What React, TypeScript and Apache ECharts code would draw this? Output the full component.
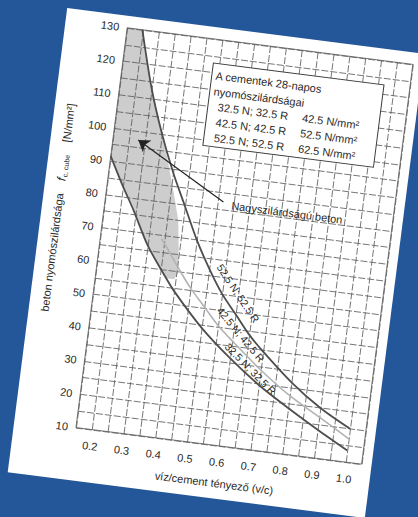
import React, { useEffect, useRef } from "react";
import * as echarts from "echarts";

// ---- axis ticks ----
const xTickLabels = ["0.2", "0.3", "0.4", "0.5", "0.6", "0.7", "0.8", "0.9", "1.0"];
const yTickLabels = ["10", "20", "30", "40", "50", "60", "70", "80", "90", "100", "110", "120", "130"];

// ---- curves (w/c ratio -> compressive strength, N/mm²) ----
const c525X = [0.198, 0.25, 0.3, 0.35, 0.4, 0.45, 0.5, 0.55, 0.6, 0.65, 0.7, 0.8, 0.9, 1.0];
const c525Y = [130, 113, 100, 89, 79.5, 70, 62, 55, 49.5, 44, 39.5, 31.5, 25, 20];

const c425X = [0.34, 0.365, 0.4, 0.45, 0.5, 0.55, 0.6, 0.7, 0.8, 0.9, 1.0];
const c425Y = [69, 66, 61.5, 55.5, 50.5, 45.5, 41.5, 34, 27.5, 22.3, 17];

const c325X = [0.15, 0.2, 0.242, 0.3, 0.36, 0.4, 0.5, 0.6, 0.7, 0.8, 0.9, 1.0];
const c325Y = [91.5, 83, 76.4, 66.5, 58.8, 54, 44.2, 36.3, 29.5, 23.8, 18.5, 13.5];

// ---- high-strength concrete zone (shaded) ----
const grayX = [0.15, 0.198, 0.25, 0.3, 0.33, 0.36, 0.385, 0.4, 0.405, 0.395, 0.37, 0.36, 0.3, 0.242, 0.2, 0.15];
const grayY = [130, 130, 113, 100, 92, 83, 75, 65, 59.5, 57.5, 57.5, 58.8, 66.5, 76.4, 83, 91.5];

// ---- arrow (data coords) ----
const arrowFrom = [0.5175, 82.2];
const arrowTo = [0.229, 97.3];

// ---- curve labels ----
const curveLabelTexts = ["52.5 N; 52.5 R", "42.5 N; 42.5 R", "32.5 N; 32.5 R"];
const curveLabelX = [0.6, 0.623, 0.668];
const curveLabelY = [55.8, 43.6, 34.0];
const curveLabelAngle = [49, 43, 38];

// ---- legend box texts ----
const boxTitle = ["A cementek 28-napos", "nyomószilárdságai"];
const boxCement = ["32.5 N; 32.5 R", "42.5 N; 42.5 R", "52.5 N; 52.5 R"];
const boxStrength = ["42.5 N/mm²", "52.5 N/mm²", "62.5 N/mm²"];

const FONT = "'Liberation Sans', Arial, Helvetica, sans-serif";
const TXT = "#2a2a2a";

const pair = (xs: number[], ys: number[]) => xs.map((x, i) => [x, ys[i]]);

export default function App() {
  const ref = useRef<HTMLDivElement>(null);
  useEffect(() => {
    if (!ref.current) return;
    const chart = echarts.init(ref.current, undefined, { renderer: "svg" });
    const gridColor = "#5c5c5c";
    chart.setOption({
      animation: false,
      backgroundColor: "transparent",
      grid: { left: 62, right: 10, top: 12, bottom: 53, show: true, borderColor: gridColor, borderWidth: 0.8 },
      xAxis: {
        type: "value",
        min: 0.15,
        max: 1.05,
        interval: 0.05,
        axisLine: { show: false },
        axisTick: { show: false },
        splitLine: { show: true, lineStyle: { color: gridColor, width: 0.8, type: [7, 2] } },
        axisLabel: {
          margin: 11,
          color: TXT,
          fontSize: 11,
          fontFamily: FONT,
          showMinLabel: false,
          showMaxLabel: false,
          formatter: (v: number) => {
            const s = v.toFixed(1);
            return Math.abs(v * 10 - Math.round(v * 10)) < 1e-6 && xTickLabels.includes(s) ? s : "";
          },
        },
        name: "víz/cement tényező (v/c)",
        nameLocation: "middle",
        nameGap: 32,
        nameTextStyle: { color: TXT, fontSize: 11, fontFamily: FONT },
      },
      yAxis: {
        type: "value",
        min: 10,
        max: 130,
        interval: 5,
        axisLine: { show: false },
        axisTick: { show: false },
        splitLine: { show: true, lineStyle: { color: gridColor, width: 0.8, type: [7, 2] } },
        axisLabel: {
          margin: 8,
          color: TXT,
          fontSize: 11,
          fontFamily: FONT,
          formatter: (v: number) => {
            const s = String(Math.round(v));
            return Math.abs(v - Math.round(v)) < 1e-6 && yTickLabels.includes(s) ? s : "";
          },
        },
      },
      series: [
        {
          type: "custom",
          z: -1,
          silent: true,
          data: [[grayX[0], grayY[0]]],
          renderItem: (_p: any, api: any) => ({
            type: "polygon",
            shape: { points: grayX.map((x, i) => api.coord([x, grayY[i]])) },
            style: { fill: "#cdcdcd", stroke: "none" },
          }),
        },
        {
          type: "line",
          name: "42.5",
          data: pair(c425X, c425Y),
          smooth: 0.3,
          showSymbol: false,
          lineStyle: { color: "#b3b3b3", width: 1.6 },
        },
        {
          type: "line",
          name: "32.5",
          data: pair(c325X, c325Y),
          smooth: 0.3,
          showSymbol: false,
          lineStyle: { color: "#4e4e4e", width: 1.8 },
        },
        {
          type: "line",
          name: "52.5",
          data: pair(c525X, c525Y),
          smooth: 0.3,
          showSymbol: false,
          lineStyle: { color: "#4e4e4e", width: 1.8 },
          markLine: {
            silent: true,
            symbol: ["none", "arrow"],
            symbolSize: 11,
            label: { show: false },
            itemStyle: { color: "#222" },
            lineStyle: { color: "#222", width: 1.2, type: "solid" },
            data: [[{ coord: arrowFrom }, { coord: arrowTo }]],
          },
        },
      ],
    });

    const graphics: any[] = [];
    // curve labels
    curveLabelTexts.forEach((t, i) => {
      const p = chart.convertToPixel({ xAxisIndex: 0, yAxisIndex: 0 }, [curveLabelX[i], curveLabelY[i]]) as number[];
      graphics.push({
        type: "text",
        x: p[0],
        y: p[1],
        rotation: (-curveLabelAngle[i] * Math.PI) / 180,
        z: 50,
        style: { text: t, fontSize: 10.5, fontFamily: FONT, fill: TXT, align: "center", verticalAlign: "middle" },
      });
    });
    // legend box
    graphics.push({
      type: "rect",
      z: 40,
      shape: { x: 152, y: 36, width: 172, height: 83 },
      style: { fill: "#ffffff", stroke: "#3c3c3c", lineWidth: 1 },
    });
    boxTitle.forEach((t, i) => {
      graphics.push({
        type: "text",
        z: 41,
        x: 156,
        y: 48 + i * 16,
        style: { text: t, fontSize: 11, fontFamily: FONT, fill: TXT, align: "left", verticalAlign: "middle" },
      });
    });
    boxCement.forEach((t, i) => {
      graphics.push({
        type: "text",
        z: 41,
        x: 162,
        y: 79 + i * 15.5,
        style: { text: t, fontSize: 11, fontFamily: FONT, fill: TXT, align: "left", verticalAlign: "middle" },
      });
      graphics.push({
        type: "text",
        z: 41,
        x: 247,
        y: 79 + i * 15.5,
        style: { text: boxStrength[i], fontSize: 11, fontFamily: FONT, fill: TXT, align: "left", verticalAlign: "middle" },
      });
    });
    // arrow label
    graphics.push({
      type: "text",
      z: 41,
      x: 188,
      y: 175,
      style: { text: "Nagyszilárdságú beton", fontSize: 11, fontFamily: FONT, fill: TXT, align: "left", verticalAlign: "middle" },
    });
    // y axis title
    graphics.push({
      type: "text",
      z: 41,
      x: 16,
      y: 199,
      rotation: Math.PI / 2,
      style: {
        text: "beton nyomószilárdsága    {f|f}{s|c, cube}    [N/mm²]",
        fontSize: 11,
        fontFamily: FONT,
        fill: TXT,
        align: "center",
        verticalAlign: "middle",
        rich: {
          f: { fontSize: 12, fontStyle: "italic", fontFamily: FONT, fill: TXT },
          s: { fontSize: 7, fontFamily: FONT, fill: TXT, padding: [6, 0, 0, 1] },
        },
      },
    });
    chart.setOption({ graphic: graphics });

    return () => chart.dispose();
  }, []);

  return (
    <div
      style={{
        position: "fixed",
        left: 0,
        top: 0,
        width: 418,
        height: 517,
        background: "#245799",
        overflow: "hidden",
      }}
    >
      <div
        ref={ref}
        style={{
          position: "absolute",
          left: 36,
          top: 29,
          width: 360,
          height: 468,
          background: "#ffffff",
          transform: "rotate(7.3deg)",
          transformOrigin: "center center",
        }}
      />
    </div>
  );
}
